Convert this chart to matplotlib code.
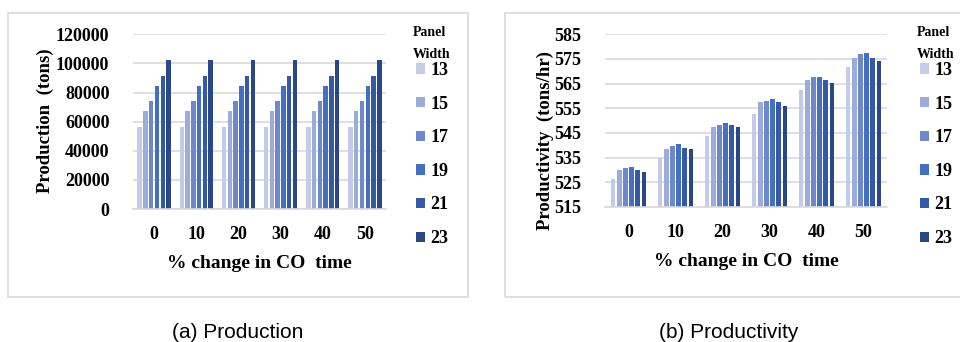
import matplotlib
matplotlib.use("Agg")
import matplotlib.pyplot as plt
from matplotlib.patches import Rectangle
import numpy as np

# ---- data ----
co_change = ["0", "10", "20", "30", "40", "50"]
panel_widths = ["13", "15", "17", "19", "21", "23"]

# Production (tons) per panel width; identical for every CO-time change
production = {
    "13": [56600, 56600, 56600, 56600, 56600, 56600],
    "15": [67600, 67600, 67600, 67600, 67600, 67600],
    "17": [74100, 74100, 74100, 74100, 74100, 74100],
    "19": [84800, 84800, 84800, 84800, 84800, 84800],
    "21": [91500, 91500, 91500, 91500, 91500, 91500],
    "23": [102300, 102300, 102300, 102300, 102300, 102300],
}

# Productivity (tons/hr) per panel width
productivity = {
    "13": [526.2, 534.8, 543.6, 552.8, 562.6, 571.6],
    "15": [530.0, 538.5, 547.6, 557.4, 566.5, 575.5],
    "17": [530.7, 539.8, 548.3, 558.1, 567.8, 576.9],
    "19": [531.4, 540.5, 548.9, 558.8, 567.8, 577.6],
    "21": [530.0, 539.1, 548.3, 557.4, 566.5, 575.5],
    "23": [529.3, 538.6, 547.6, 556.1, 565.2, 574.3],
}

prod_ticks = [0, 20000, 40000, 60000, 80000, 100000, 120000]
rate_ticks = [515, 525, 535, 545, 555, 565, 575, 585]

colors = ["#c3cbe7", "#9cacd9", "#6f88cb", "#4470c2", "#3659a6", "#2a4787"]

SERIF = "Liberation Serif"
SANS = "Liberation Sans"
GRID = "#d9d9d9"

W, H = 960, 342
fig = plt.figure(figsize=(W / 100, H / 100), dpi=100)


def px_box(x0, y0, x1, y1):
    """Axes rectangle in figure fractions from pixel edges (top-left origin)."""
    return [x0 / W, 1 - y1 / H, (x1 - x0) / W, (y1 - y0) / H]


def frame(x0, y0, x1, y1):
    fig.patches.append(Rectangle((x0 / W, 1 - y1 / H), (x1 - x0) / W, (y1 - y0) / H,
                                 transform=fig.transFigure, fill=False,
                                 edgecolor=GRID, linewidth=1.2, zorder=0))


def draw_panel(ax, data, ticks, ylabel, step, ylabel_xy, legend_x):
    x = np.arange(len(co_change))
    n = len(panel_widths)
    handles = []
    for i, (pw, c) in enumerate(zip(panel_widths, colors)):
        offs = (i - (n - 1) / 2) * step
        b = ax.bar(x + offs, data[pw], width=step * 0.76, color=c, zorder=3)
        handles.append(b)
    ax.set_xlim(-0.5, len(co_change) - 0.5)
    ax.set_ylim(ticks[0], ticks[-1])
    ax.set_yticks(ticks)
    ax.set_yticklabels([str(t) for t in ticks])
    ax.set_xticks(x)
    ax.set_xticklabels(co_change)
    for s in ["top", "right", "left"]:
        ax.spines[s].set_visible(False)
    ax.spines["bottom"].set_color(GRID)
    ax.spines["bottom"].set_linewidth(1.2)
    ax.spines["bottom"].set_zorder(4)
    ax.grid(axis="y", color=GRID, linewidth=1.2, zorder=0)
    ax.tick_params(axis="both", length=0, labelsize=13)
    ax.tick_params(axis="y", pad=17)
    ax.tick_params(axis="x", pad=12)
    for lab in ax.get_xticklabels() + ax.get_yticklabels():
        lab.set_fontfamily(SERIF)
        lab.set_fontweight("bold")
    ax.set_xlabel("% change in CO  time", fontfamily=SERIF, fontweight="bold",
                  fontsize=14, labelpad=9)
    fig.text(ylabel_xy[0] / W, 1 - ylabel_xy[1] / H, ylabel, rotation=90,
             fontfamily=SERIF, fontweight="bold", fontsize=13.5,
             ha="center", va="center")

    # legend heading on two widely spaced lines
    for txt, yc in (("Panel", 32), ("Width", 55)):
        fig.text((legend_x - 3) / W, 1 - yc / H, txt, fontfamily=SERIF,
                 fontweight="bold", fontsize=10, ha="left", va="center")
    ax.legend(handles, panel_widths, loc="upper left",
              bbox_to_anchor=(legend_x / W, 1 - 62 / H),
              bbox_transform=fig.transFigure,
              frameon=False, handlelength=0.5, handleheight=0.5,
              handletextpad=0.3, labelspacing=0.92, borderpad=0,
              borderaxespad=0,
              prop={"family": SERIF, "weight": "bold", "size": 13})
    return ax


# (a) Production
frame(8, 13, 468, 297)
ax1 = fig.add_axes(px_box(133, 34.3, 386, 209))
draw_panel(ax1, production, prod_ticks, "Production  (tons)", 0.137,
           (45, 121), 416)
fig.text(238 / W, 1 - 338.5 / H, "(a) Production", fontfamily=SANS,
         fontsize=15, ha="center", va="baseline")

# (b) Productivity
frame(505, 13, 990, 297)
ax2 = fig.add_axes(px_box(605, 34.3, 887, 207))
draw_panel(ax2, productivity, rate_ticks, "Productivity  (tons/hr)", 0.132,
           (545, 140), 920)
fig.text(729 / W, 1 - 338.5 / H, "(b) Productivity", fontfamily=SANS,
         fontsize=15, ha="center", va="baseline")

fig.savefig("out.png", dpi=100, facecolor="white")
